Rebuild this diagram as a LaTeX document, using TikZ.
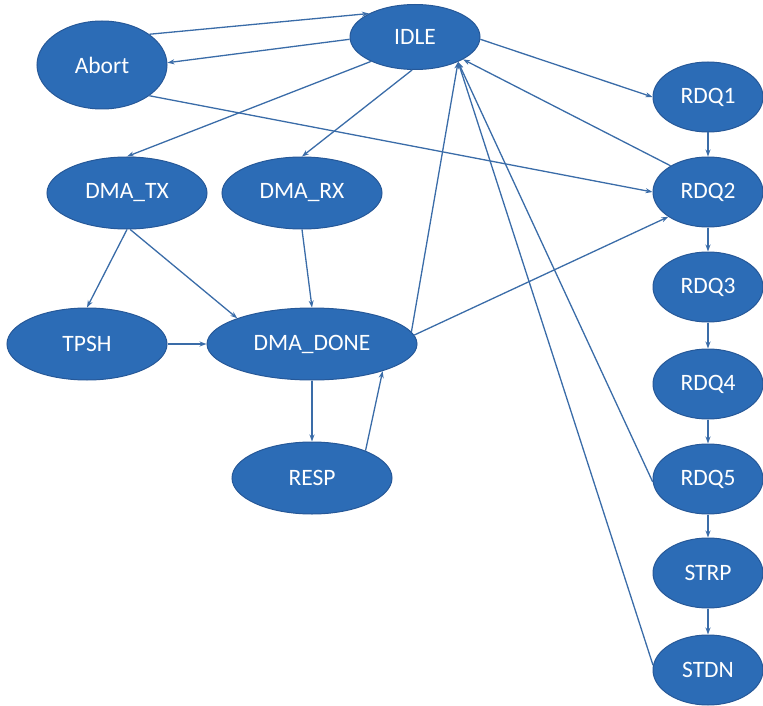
\documentclass[tikz,border=0pt]{standalone}
\usepackage{fontspec}
\newfontfamily\carlito{Carlito}
\usetikzlibrary{shapes.geometric,arrows.meta}
\definecolor{statefill}{RGB}{44,108,182}
\definecolor{stateline}{RGB}{38,88,152}
\definecolor{transline}{RGB}{58,108,168}
\begin{document}
\begin{tikzpicture}[x=1pt, y=-1pt,
		every node/.style = {shape=ellipse, draw=stateline, line width=1pt,
			fill=statefill, text=white, inner sep=0pt,
			font=\carlito\fontsize{23.5}{27}\selectfont},
		wide/.style = {minimum width=160pt, minimum height=72pt},
		rdq/.style = {minimum width=110pt, minimum height=70pt},
		trans/.style = {-{Stealth[length=7pt,width=5pt]}, line width=1.3pt, transline}]
		\useasboundingbox (0,0) rectangle (763,706);
		\node[minimum width=130pt, minimum height=65pt] (idle) at (415,37) {IDLE};
		\node[minimum width=130pt, minimum height=88pt] (abort) at (102,65) {Abort};
		\node[wide] (dmatx) at (127,193) {DMA\_TX};
		\node[wide] (dmarx) at (302,193) {DMA\_RX};
		\node[wide] (tpsh) at (87,344) {TPSH};
		\node[wide, minimum width=210pt] (dmadone) at (312,344) {DMA\_DONE};
		\node[wide] (resp) at (312,478) {RESP};
		\node[rdq] (rdq1) at (708,97) {RDQ1};
		\node[rdq] (rdq2) at (708,192) {RDQ2};
		\node[rdq] (rdq3) at (708,287) {RDQ3};
		\node[rdq] (rdq4) at (708,384) {RDQ4};
		\node[rdq] (rdq5) at (708,479) {RDQ5};
		\node[rdq] (strp) at (708,573) {STRP};
		\node[rdq] (stdn) at (708,670) {STDN};
		% idle and abort
		\draw[trans] (abort.33) -- (idle.153);
		\draw[trans] (idle.182) -- (abort.2);
		\draw[trans] (idle.209) -- (dmatx.north);
		\draw[trans] (idle.265) -- (dmarx.north);
		\draw[trans] (abort.-33) -- (rdq2.west);
		\draw[trans] (idle.-2) -- (rdq1.west);
		% back to idle
		\draw[trans] (rdq2.145) -- (idle.-25);
		\draw[trans] (dmadone.7) -- (idle.-30);
		\draw[trans] (rdq5.183) -- (idle.-30);
		\draw[trans] (stdn.175) -- (idle.-30);
		\draw[trans] (dmadone.5) -- (rdq2.212);
		% dma part
		\draw[trans] (dmatx.south) -- (tpsh.north);
		\draw[trans] (dmatx.-85) -- (dmadone.161);
		\draw[trans] (dmarx.south) -- (dmadone.north);
		\draw[trans] (tpsh.east) -- (dmadone.west);
		\draw[trans] (dmadone.south) -- (resp.north);
		\draw[trans] (resp.27) -- (dmadone.-21);
		% rdq chain
		\draw[trans] (rdq1) -- (rdq2);
		\draw[trans] (rdq2) -- (rdq3);
		\draw[trans] (rdq3) -- (rdq4);
		\draw[trans] (rdq4) -- (rdq5);
		\draw[trans] (rdq5) -- (strp);
		\draw[trans] (strp) -- (stdn);
\end{tikzpicture}
\end{document}
